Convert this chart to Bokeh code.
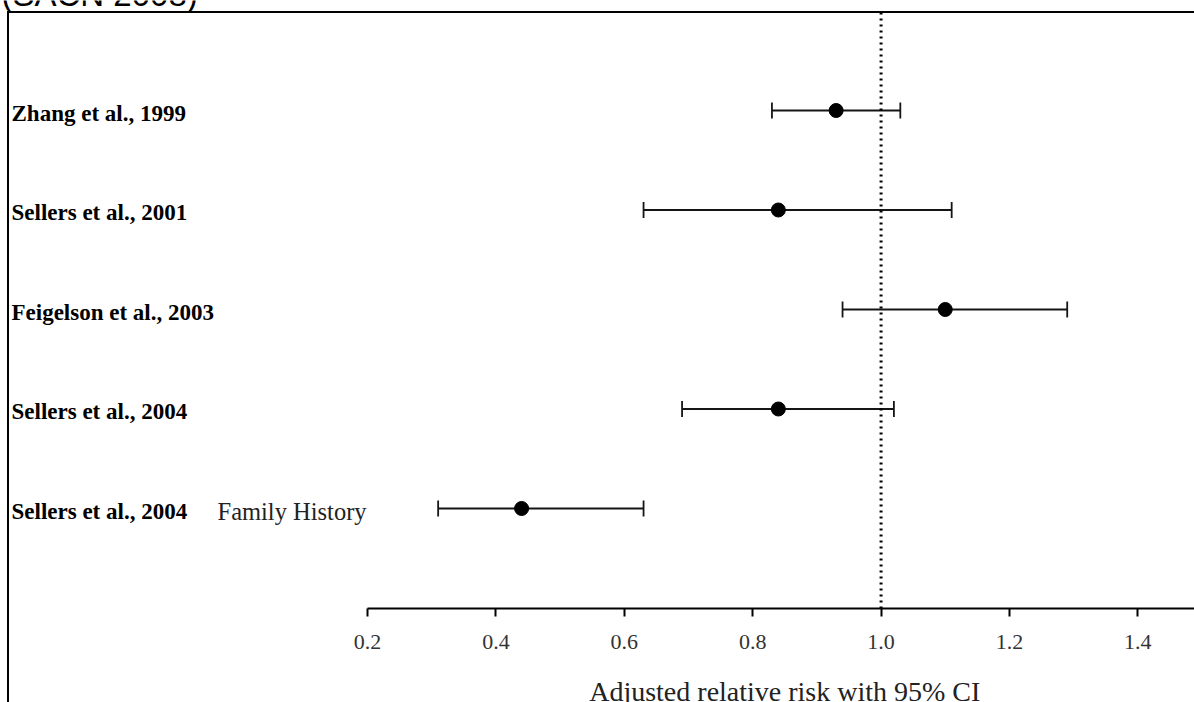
from bokeh.plotting import figure
from bokeh.models import (Range1d, LinearAxis, FixedTicker, PrintfTickFormatter, Whisker,
                          TeeHead, ColumnDataSource)
from bokeh.core.properties import value
from bokeh.embed import file_html
from bokeh.resources import INLINE

# ---- data ----
studies = ["Zhang et al., 1999", "Sellers et al., 2001", "Feigelson et al., 2003",
           "Sellers et al., 2004", "Sellers et al., 2004"]
subgroups = ["", "", "", "", "Family History"]
rr = [0.93, 0.84, 1.10, 0.84, 0.44]
ci_low = [0.83, 0.63, 0.94, 0.69, 0.31]
ci_high = [1.03, 1.11, 1.29, 1.02, 0.63]
row = [5, 4, 3, 2, 1]
ticks = [0.2, 0.4, 0.6, 0.8, 1.0, 1.2, 1.4]
axis_bounds = (0.2, 1.5)
title_text = "(SACN 2008)"
x_label = "Adjusted relative risk with 95% CI"
null_value = 1.0

# ---- layout constants ----
W, H = 1194, 702
X0, X1 = -0.3718, 1.4883          # x range across the full width
PX_ROW = 99.5                     # pixels per row unit
Y_TOP = 6.1055                    # y value at the top edge of the canvas
Y_BOT = Y_TOP - H / PX_ROW
AXIS_Y = Y_TOP - 608 / PX_ROW     # where the x axis line sits
BOX_Y = Y_TOP - 12 / PX_ROW       # top edge of the outer box

p = figure(width=W, height=H, output_backend="svg", toolbar_location=None,
           x_range=Range1d(X0, X1), y_range=Range1d(Y_BOT, Y_TOP),
           min_border_left=0, min_border_right=0, min_border_top=0, min_border_bottom=0,
           x_axis_location=None, y_axis_location=None, outline_line_color=None,
           border_fill_color=None, background_fill_color=None)
p.grid.visible = False
# outer box (left and top edges) drawn behind the transparent canvas
p.styles = {
    "background-color": "white",
    "background-image": "linear-gradient(#000, #000), linear-gradient(#000, #000)",
    "background-size": "2px 700px, 1200px 2px",
    "background-position": "7px 11px, 7px 11px",
    "background-repeat": "no-repeat",
}

src = ColumnDataSource(dict(row=row, rr=rr, lo=ci_low, hi=ci_high, study=studies, sub=subgroups))

# reference line at RR = 1, from the box top down to the axis
p.segment(x0=[null_value], y0=[AXIS_Y], x1=[null_value], y1=[BOX_Y],
          line_color="black", line_width=3, line_dash="2 4")

# CI whiskers
ink = "#151515"
p.add_layout(Whisker(source=src, base="row", lower="lo", upper="hi", dimension="width",
                     line_color=ink, line_width=1.8,
                     lower_head=TeeHead(size=16, line_color=ink, line_width=1.8),
                     upper_head=TeeHead(size=16, line_color=ink, line_width=1.8)))
p.scatter("rr", "row", source=src, size=14, color="black", marker="circle")

# study labels
p.text(x=value(X0), y="row", text="study", source=src, x_offset=11, y_offset=3,
       text_font=value("Liberation Serif"), text_font_style="bold", text_font_size="23px",
       text_baseline="middle", text_align="left", text_color="black")
p.text(x=value(X0), y="row", text="sub", source=src, x_offset=217, y_offset=3,
       text_font=value("Liberation Serif"), text_font_size="24.5px",
       text_baseline="middle", text_align="left", text_color="#222222")

# x axis pinned inside the frame
xaxis = LinearAxis(ticker=FixedTicker(ticks=ticks), formatter=PrintfTickFormatter(format="%.1f"),
                   bounds=axis_bounds, fixed_location=AXIS_Y)
xaxis.minor_tick_line_color = None
xaxis.major_tick_in = 0
xaxis.major_tick_out = 8
xaxis.axis_line_width = 2
xaxis.major_tick_line_width = 2
xaxis.major_label_standoff = 18
xaxis.major_label_text_font = "Liberation Serif"
xaxis.major_label_text_font_size = "22px"
xaxis.major_label_text_color = "#333333"
p.add_layout(xaxis, "below")

# axis title centred on the axis span
p.text(x=[sum(axis_bounds) / 2], y=[AXIS_Y], text=[x_label], y_offset=83,
       text_font=value("Liberation Serif"), text_font_size="28px",
       text_align="center", text_baseline="middle", text_color="#222222")

# title (cut off at the top in the reference)
p.text(x=[X0], y=[Y_TOP], text=[title_text], x_offset=1, y_offset=-6,
       text_font=value("Liberation Sans"), text_font_size="33px",
       text_align="left", text_baseline="middle", text_color="black")

open("out.html", "w").write(file_html(p, INLINE))
